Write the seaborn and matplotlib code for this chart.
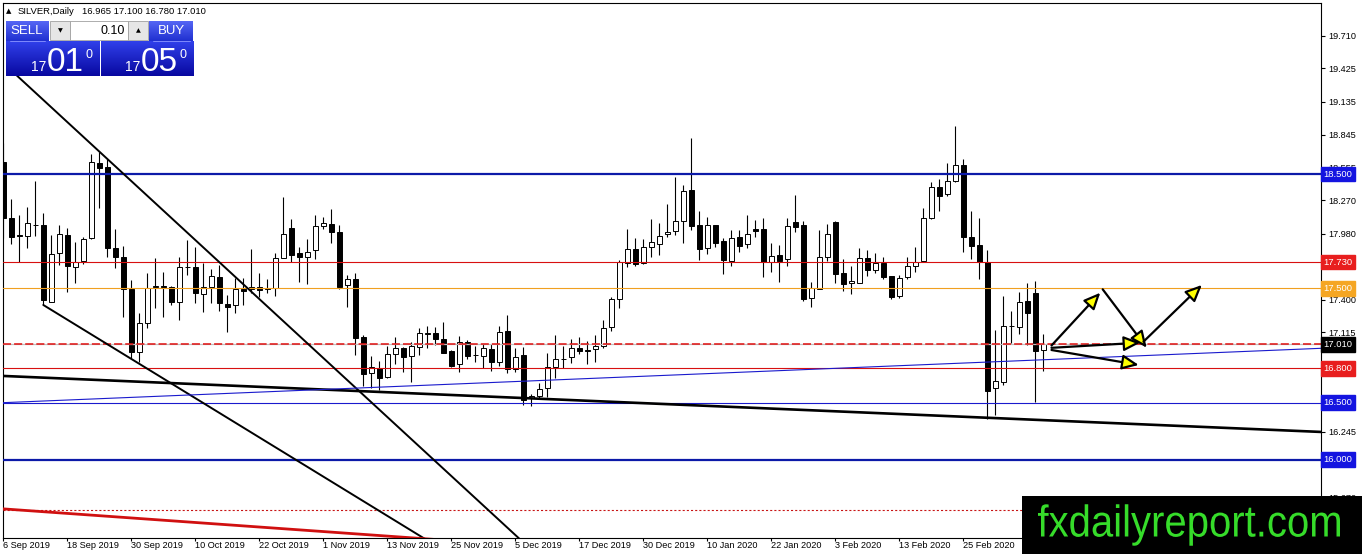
import numpy as np
import pandas as pd
import matplotlib
matplotlib.use("Agg")
import matplotlib.pyplot as plt
import matplotlib.transforms as mtransforms
from matplotlib.patches import Rectangle, PathPatch
from matplotlib.textpath import TextPath
from matplotlib.font_manager import FontProperties
import seaborn as sns

W, H = 1362, 554

# Velas diarias SILVER
opens = [18.609, 18.113, 17.965, 17.961, 18.052, 18.055, 17.384, 17.807, 17.967, 17.690,
         17.743, 17.938, 18.594, 18.559, 17.850, 17.778, 17.495, 16.947, 17.195, 17.512,
         17.518, 17.515, 17.384, 17.690, 17.690, 17.448, 17.509, 17.597, 17.364, 17.355,
         17.495, 17.495, 17.515, 17.495, 17.501, 17.763, 18.026, 17.807, 17.772, 17.836,
         18.049, 18.061, 17.990, 17.530, 17.579, 17.072, 16.757, 16.807, 16.722, 16.923,
         16.976, 16.912, 16.991, 17.104, 17.107, 17.055, 16.953, 16.836, 17.028, 16.920,
         16.909, 16.967, 16.859, 17.128, 16.792, 16.918, 16.539, 16.559, 16.626, 16.816,
         16.886, 16.897, 16.982, 16.958, 16.967, 16.999, 17.160, 17.404, 17.725, 17.842,
         17.725, 17.865, 17.885, 17.973, 18.005, 18.090, 18.361, 18.055, 17.850, 18.055,
         17.915, 17.743, 17.947, 17.885, 18.020, 18.020, 17.734, 17.792, 17.754, 18.078,
         18.055, 17.413, 17.492, 17.778, 18.084, 17.632, 17.545, 17.550, 17.769, 17.661,
         17.725, 17.609, 17.437, 17.597, 17.699, 17.743, 18.113, 18.384, 18.323, 18.442,
         18.579, 17.947, 17.880, 17.728, 16.632, 16.684, 17.168, 17.160, 17.390, 17.463,
         16.965]
highs = [18.769, 18.282, 18.142, 18.209, 18.439, 18.157, 17.967, 18.052, 18.026, 17.903,
         17.947, 18.676, 18.696, 18.629, 18.017, 17.871, 17.574, 17.288, 17.632, 17.763,
         17.647, 17.520, 17.778, 17.923, 17.865, 17.725, 17.670, 17.705, 17.442, 17.588,
         17.588, 17.845, 17.632, 17.580, 17.807, 18.302, 18.107, 17.865, 17.932, 18.142,
         18.122, 18.192, 18.055, 17.617, 17.632, 17.093, 16.909, 16.868, 16.996, 17.078,
         16.991, 17.034, 17.151, 17.171, 17.160, 17.209, 16.961, 17.084, 17.049, 16.996,
         17.011, 17.011, 17.174, 17.267, 16.982, 16.991, 16.574, 16.676, 16.932, 17.093,
         16.996, 17.058, 17.072, 17.040, 17.093, 17.224, 17.428, 17.749, 18.020, 17.938,
         17.932, 18.107, 18.069, 18.235, 18.471, 18.404, 18.813, 18.180, 18.122, 18.055,
         17.938, 18.011, 18.011, 18.142, 18.098, 18.113, 17.894, 17.880, 18.113, 18.317,
         18.090, 17.553, 18.011, 18.061, 18.093, 17.754, 17.696, 17.851, 17.836, 17.813,
         17.778, 17.609, 17.617, 17.778, 17.865, 18.200, 18.434, 18.454, 18.600, 18.921,
         18.629, 18.177, 18.113, 17.836, 17.136, 17.434, 17.305, 17.472, 17.550, 17.565,
         17.100]
lows = [17.938, 17.888, 17.734, 17.856, 17.961, 17.355, 17.380, 17.705, 17.472, 17.550,
        17.714, 17.935, 18.200, 17.772, 17.676, 17.247, 16.888, 16.859, 17.151, 17.326,
        17.253, 17.355, 17.224, 17.617, 17.375, 17.297, 17.375, 17.305, 17.122, 17.282,
        17.355, 17.457, 17.428, 17.457, 17.434, 17.763, 17.734, 17.559, 17.539, 17.754,
        18.017, 17.894, 17.492, 17.340, 16.918, 16.649, 16.626, 16.612, 16.714, 16.836,
        16.772, 16.684, 16.918, 16.982, 17.005, 16.938, 16.810, 16.772, 16.883, 16.859,
        16.801, 16.781, 16.821, 16.757, 16.772, 16.480, 16.472, 16.539, 16.553, 16.719,
        16.807, 16.851, 16.923, 16.839, 16.854, 16.982, 17.130, 17.332, 17.690, 17.699,
        17.714, 17.772, 17.792, 17.947, 17.967, 17.900, 18.011, 17.748, 17.801, 17.865,
        17.626, 17.699, 17.821, 17.856, 17.953, 17.597, 17.641, 17.559, 17.699, 17.996,
        17.393, 17.340, 17.492, 17.743, 17.550, 17.480, 17.448, 17.550, 17.609, 17.632,
        17.585, 17.407, 17.413, 17.580, 17.647, 17.743, 18.104, 18.177, 18.308, 18.434,
        17.821, 17.754, 17.579, 16.358, 16.393, 16.655, 17.026, 17.101, 17.005, 16.510,
        16.780]
closes = [18.113, 17.953, 17.958, 18.069, 18.058, 17.399, 17.801, 17.976, 17.699, 17.734,
          17.932, 18.603, 18.556, 17.856, 17.772, 17.495, 16.947, 17.195, 17.507, 17.518,
          17.512, 17.384, 17.684, 17.684, 17.457, 17.509, 17.609, 17.370, 17.340, 17.492,
          17.480, 17.515, 17.486, 17.507, 17.763, 17.973, 17.792, 17.772, 17.821, 18.049,
          18.069, 17.996, 17.515, 17.582, 17.063, 16.749, 16.816, 16.714, 16.923, 16.982,
          16.903, 16.999, 17.107, 17.110, 17.058, 16.938, 16.821, 17.028, 16.912, 16.916,
          16.982, 16.853, 17.116, 16.792, 16.903, 16.524, 16.559, 16.617, 16.816, 16.880,
          16.880, 16.982, 16.956, 16.954, 16.999, 17.151, 17.404, 17.734, 17.842, 17.714,
          17.865, 17.903, 17.961, 17.996, 18.090, 18.352, 18.046, 17.842, 18.055, 17.900,
          17.749, 17.938, 17.874, 17.973, 18.005, 17.734, 17.784, 17.743, 18.049, 18.040,
          17.407, 17.501, 17.772, 17.976, 17.626, 17.536, 17.565, 17.769, 17.661, 17.719,
          17.597, 17.428, 17.588, 17.699, 17.734, 18.113, 18.384, 18.311, 18.439, 18.579,
          17.947, 17.874, 17.734, 16.606, 16.690, 17.171, 17.174, 17.384, 17.288, 16.955,
          17.010]

date_ticks = [0, 8, 16, 24, 32, 40, 48, 56, 64, 72, 80, 88, 96, 104, 112, 120]
date_labels = ["6 Sep 2019", "18 Sep 2019", "30 Sep 2019", "10 Oct 2019", "22 Oct 2019",
               "1 Nov 2019", "13 Nov 2019", "25 Nov 2019", "5 Dec 2019", "17 Dec 2019",
               "30 Dec 2019", "10 Jan 2020", "22 Jan 2020", "3 Feb 2020", "13 Feb 2020",
               "25 Feb 2020"]

price_ticks = [19.710, 19.425, 19.135, 18.845, 18.555, 18.270, 17.980, 17.690,
               17.400, 17.115, 16.825, 16.535, 16.245, 15.960, 15.670]
# estas quedan totalmente tapadas por las etiquetas de nivel
hidden_ticks = [16.825, 16.535]

# Niveles horizontales
level_prices = [18.500, 17.730, 17.500, 17.010, 16.800, 16.500, 16.000]
dotted_level = 15.560

# Lineas de tendencia: (barra0, precio0, barra1, precio1)
channel_top = (1.69, 19.361, 70.0, 14.954)
channel_bottom = (4.975, 17.355, 60.0, 14.994)
support_line = (-0.06, 16.734, 164.7, 16.244)
rising_line = (-0.06, 16.500, 164.77, 16.976)
red_trend = (-0.06, 15.571, 60.0, 15.273)

# Flechas de escenario: (barra0, precio0, barra1, precio1)
arrows = [
    (131.0, 17.000, 137.1, 17.462),
    (137.4, 17.492, 142.9, 16.981),
    (142.5, 17.034, 149.8, 17.530),
    (131.0, 16.980, 142.1, 17.025),
    (131.0, 16.961, 141.9, 16.830),
]

header_symbol = "SILVER,Daily"
header_ohlc = "16.965 17.100 16.780 17.010"
lot_size = "0.10"
bid_big, ask_big = "01", "05"
price_prefix = "17"
watermark = "fxdailyreport.com"


def fx(px):
    return px / W


def fy(py):
    return 1 - py / H


def gradient_box(fig, x0, y0, x1, y1, top, bottom, z=6):
    bax = fig.add_axes([fx(x0), fy(y1), fx(x1 - x0), (y1 - y0) / H], zorder=z)
    cmap = matplotlib.colors.LinearSegmentedColormap.from_list("g", [top, bottom])
    bax.imshow(np.linspace(0, 1, 64).reshape(-1, 1), aspect="auto", cmap=cmap,
               extent=(0, 1, 1, 0))
    bax.set_axis_off()
    return bax


sns.set_style("white")
plt.rcParams["font.family"] = ["Liberation Sans", "DejaVu Sans"]
plt.rcParams["lines.scale_dashes"] = False

fig = plt.figure(figsize=(W / 100, H / 100), dpi=100)
ax = fig.add_axes([fx(3), fy(538), fx(1321 - 3), (538 - 3) / H])
ax.set_facecolor("white")

bars = np.arange(len(opens))
o = np.array(opens)
c = np.array(closes)
up = c >= o

# mechas y cuerpos
ax.vlines(bars, lows, highs, color="black", linewidth=0.8, zorder=2)
ax.bar(bars, c - o, bottom=o, width=0.62,
       color=np.where(up, "white", "black"), edgecolor="black",
       linewidth=0.7, zorder=3)

# niveles horizontales
level_style = {
    18.500: dict(color="#0c1aa8", lw=1.6),
    17.730: dict(color="#d81010", lw=0.8),
    17.500: dict(color="#f0a020", lw=0.8),
    16.800: dict(color="#d81010", lw=0.8),
    16.500: dict(color="#1a1acd", lw=0.8),
    16.000: dict(color="#0c1aa8", lw=1.6),
}
for p in level_prices:
    if p == 17.010:
        ax.axhline(p, color="#c0c0c0", lw=0.9, zorder=4)
        ax.axhline(p, color="#e01010", lw=1.1, dashes=(5.8, 2.2), zorder=4)
    else:
        st = level_style[p]
        ax.axhline(p, color=st["color"], lw=st["lw"], zorder=4)
ax.axhline(dotted_level, color="#c81414", lw=0.8, dashes=(1.5, 1.5), zorder=4)

# lineas de tendencia
trend_style = [
    (channel_top, "black", 1.4),
    (channel_bottom, "black", 1.4),
    (support_line, "black", 1.9),
    (rising_line, "#1a1acd", 0.8),
    (red_trend, "#d01010", 2.0),
]
for (x0, p0, x1, p1), col, lw in trend_style:
    sns.lineplot(x=[x0, x1], y=[p0, p1], ax=ax, color=col, linewidth=lw, zorder=5)

for x0, p0, x1, p1 in arrows:
    ax.annotate("", xy=(x1, p1), xytext=(x0, p0), zorder=7,
                arrowprops=dict(arrowstyle="-|>,head_length=1.0,head_width=0.45",
                                fc="#ffff00", ec="black", lw=1.6,
                                shrinkA=0, shrinkB=0))

ax.set_xlim(-0.06, 164.69)
ax.set_ylim(15.316, 19.997)

# ejes
for s in ax.spines.values():
    s.set_color("black")
    s.set_linewidth(0.8)
ax.set_xticks(date_ticks)
ax.set_xticklabels(date_labels, ha="left")
ax.yaxis.tick_right()
ax.set_yticks(price_ticks)
ax.set_yticklabels(["" if p in hidden_ticks else f"{p:.3f}" for p in price_ticks])
ax.tick_params(axis="x", length=2, width=0.8, pad=0, labelsize=6.6, colors="black",
               bottom=True)
ax.tick_params(axis="y", length=3, width=0.8, pad=2, labelsize=6.6, colors="black",
               right=True, left=False)
ax.set_xlabel("")
ax.set_ylabel("")

# etiquetas de precio en el eje derecho
label_colors = {18.500: "#1414e0", 17.730: "#e81e1e", 17.500: "#f5a623",
                17.010: "black", 16.800: "#e81e1e", 16.500: "#1414e0",
                16.000: "#1414e0"}
trans = mtransforms.blended_transform_factory(ax.transAxes, ax.transData)
for p in level_prices:
    col = label_colors[p]
    ax.text(1.0 + 2.5 / 1318, p, f"{p:.3f}", transform=trans, ha="left", va="center",
            fontsize=6.8, color="white", zorder=8, clip_on=False,
            bbox=dict(boxstyle="square,pad=0.3", fc=col, ec=col))

# cabecera
fig.text(fx(6), fy(13), "\u25b2", fontsize=5, color="black", va="baseline",
         family=["DejaVu Sans"])
fig.text(fx(18), fy(14), header_symbol, fontsize=6.8, color="black", va="baseline")
fig.text(fx(82), fy(14), header_ohlc, fontsize=6.8, color="black", va="baseline")

# panel de operaciones
gradient_box(fig, 6, 21, 48, 41, "#5566f5", "#2030d0")
gradient_box(fig, 149, 21, 193, 41, "#5566f5", "#2030d0")
gradient_box(fig, 6, 41, 99, 76, "#3040ea", "#0808a0")
gradient_box(fig, 101, 41, 193, 76, "#3040ea", "#0808a0")
for x0, x1, col in [(50, 70, "#e6e6e6"), (70, 128, "white"), (128, 148, "#e6e6e6")]:
    fig.add_artist(Rectangle((fx(x0), fy(40)), fx(x1 - x0), 19 / H,
                             transform=fig.transFigure, fc=col, ec="#a0a0a0",
                             lw=0.6, zorder=6))
fig.add_artist(plt.Line2D([fx(10), fx(45)], [fy(40.5), fy(40.5)],
                          transform=fig.transFigure, color="#8c96ff", lw=0.6, zorder=7))
fig.add_artist(plt.Line2D([fx(153), fx(190)], [fy(40.5), fy(40.5)],
                          transform=fig.transFigure, color="#8c96ff", lw=0.6, zorder=7))
fig.text(fx(27), fy(31), "SELL", fontsize=9.5, color="white", ha="center",
         va="center", zorder=8)
fig.text(fx(171), fy(31), "BUY", fontsize=9.5, color="white", ha="center",
         va="center", zorder=8)
fig.text(fx(125), fy(30.5), lot_size, fontsize=9, color="black", ha="right",
         va="center", zorder=8)
fig.text(fx(60), fy(30.5), "\u25bc", fontsize=4.5, color="black", ha="center",
         va="center", zorder=8, family=["DejaVu Sans"])
fig.text(fx(138), fy(30.5), "\u25b2", fontsize=4.5, color="black", ha="center",
         va="center", zorder=8, family=["DejaVu Sans"])
for left, big in [(31, bid_big), (125, ask_big)]:
    fig.text(fx(left), fy(71), price_prefix, fontsize=10, color="white",
             va="baseline", zorder=8)
    fig.text(fx(left + 16), fy(71), big, fontsize=24, color="white",
             va="baseline", zorder=8)
    fig.text(fx(left + 54), fy(58), "0", fontsize=9, color="white",
             va="baseline", zorder=8)

# marca de agua (letra estrecha: se comprime el trazo en horizontal)
fig.add_artist(Rectangle((fx(1022), 0), fx(340), 58 / H, transform=fig.transFigure,
                         fc="black", ec="none", zorder=10))
tp = TextPath((0, 0), watermark, size=44.5, prop=FontProperties(family="Liberation Sans"))
ext = tp.get_extents()
sx = 302.0 / ext.width
wm_tr = mtransforms.Affine2D().scale(sx, 1.0).translate(1038 - ext.x0 * sx, H - 536.5)
fig.add_artist(PathPatch(tp, transform=wm_tr, fc="#36dc2a", ec="none", zorder=11))

fig.savefig("out.png", dpi=100)
plt.close(fig)
